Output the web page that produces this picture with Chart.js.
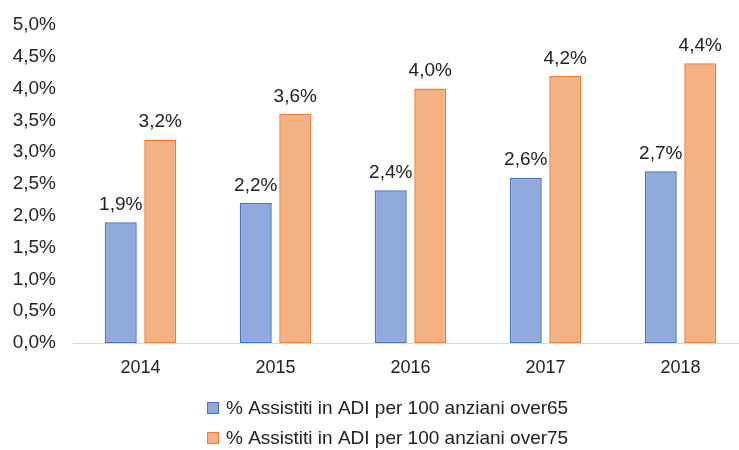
<!DOCTYPE html>
<html><head><meta charset="utf-8">
<script src="https://cdn.jsdelivr.net/npm/chart.js@4.4.0/dist/chart.umd.min.js"></script>
<style>html,body{margin:0;padding:0;background:#fff;overflow:hidden;width:739px;height:450px}#wrap{width:739px;height:450px;overflow:hidden}</style>
</head><body><div id="wrap"><canvas id="c" width="748" height="450"></canvas></div>
<script>
const categories = ['2014','2015','2016','2017','2018'];
const over65 = [1.9, 2.2, 2.4, 2.6, 2.7];
const over75 = [3.2, 3.6, 4.0, 4.2, 4.4];
const seriesNames = ['% Assistiti in ADI per 100 anziani over65','% Assistiti in ADI per 100 anziani over75'];
const yTicks = [0,0.5,1,1.5,2,2.5,3,3.5,4,4.5,5];

const fmt = v => v.toFixed(1).replace('.', ',') + '%';
const FONT = 'Liberation Sans, Arial, sans-serif';
const FS = 19;
const TXT = '#222222';

const labelPlugin = {
  id: 'valueLabels',
  afterDatasetsDraw(chart) {
    const ctx = chart.ctx;
    ctx.save();
    ctx.font = FS + 'px ' + FONT;
    ctx.fillStyle = TXT;
    ctx.textAlign = 'center';
    ctx.textBaseline = 'bottom';
    chart.data.datasets.forEach((ds, i) => {
      chart.getDatasetMeta(i).data.forEach((bar, j) => {
        ctx.fillText(fmt(ds.data[j]), bar.x, bar.y - 8);
      });
    });
    ctx.restore();
  }
};

const legendPlugin = {
  id: 'stackedLegend',
  afterDraw(chart) {
    const ctx = chart.ctx;
    ctx.save();
    ctx.font = FS + 'px ' + FONT;
    ctx.textAlign = 'left';
    ctx.textBaseline = 'middle';
    const rows = [408, 438];
    chart.data.datasets.forEach((ds, i) => {
      const y = rows[i];
      ctx.fillStyle = ds.backgroundColor;
      ctx.fillRect(207, y - 6, 12, 12);
      ctx.strokeStyle = ds.borderColor;
      ctx.lineWidth = 1;
      ctx.strokeRect(207.5, y - 5.5, 11, 11);
      ctx.fillStyle = TXT;
      ctx.fillText(ds.label, 226, y + 1);
    });
    ctx.restore();
  }
};

new Chart(document.getElementById('c'), {
  type: 'bar',
  data: {
    labels: categories,
    datasets: [
      { label: seriesNames[0], data: over65, backgroundColor: '#8FAADC', borderColor: '#4472C4', borderWidth: 1.5, borderSkipped: false, categoryPercentage: 0.585, barPercentage: 0.81 },
      { label: seriesNames[1], data: over75, backgroundColor: '#F4B183', borderColor: '#ED7D31', borderWidth: 1.5, borderSkipped: false, categoryPercentage: 0.585, barPercentage: 0.81 }
    ]
  },
  options: {
    responsive: false,
    animation: false,
    layout: { padding: { top: 25, left: 6, right: 0, bottom: 71 } },
    plugins: {
      tooltip: { enabled: false },
      legend: { display: false }
    },
    scales: {
      x: {
        afterFit(s) { s.height = 36; },
        grid: { display: false, drawTicks: false },
        border: { display: true, color: '#D9D9D9', width: 1 },
        ticks: { font: { size: 18, family: FONT }, color: TXT, padding: 14 }
      },
      y: {
        min: 0, max: 5,
        afterFit(s) { s.width = 67; s.paddingTop = 0; },
        afterBuildTicks(s) { s.ticks = yTicks.map(v => ({ value: v })); },
        grid: { display: false, drawTicks: false },
        border: { display: false },
        ticks: { font: { size: FS, family: FONT, lineHeight: 1 }, color: TXT, padding: 17, callback: v => fmt(v) }
      }
    }
  },
  plugins: [labelPlugin, legendPlugin]
});
</script>
</body></html>
